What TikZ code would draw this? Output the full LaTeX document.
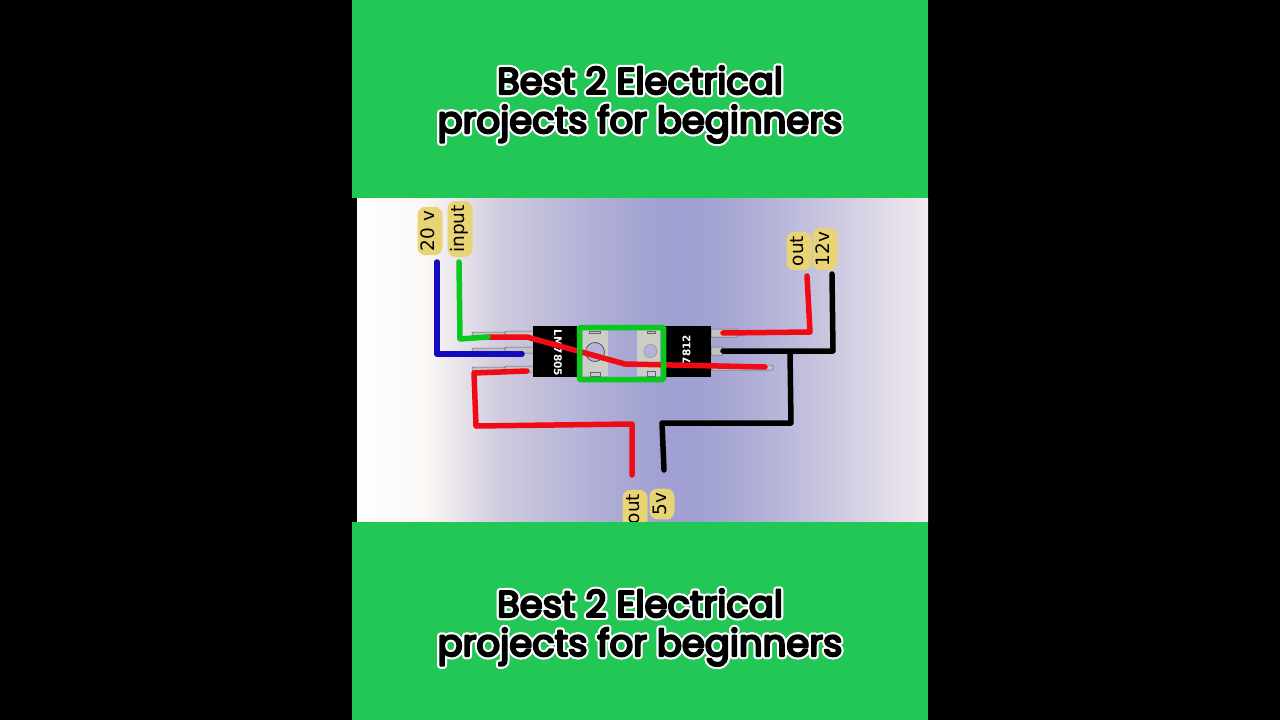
\documentclass[tikz,border=0pt]{standalone}
\usepackage{fontspec}
\setmainfont{Poppins}
\newfontfamily\labelfont{DejaVu Sans}
\newcommand{\stroked}[3]{{\color{#1}\special{pdf:code 2 Tr #2 w 1 j 1 J}#3\special{pdf:code 0 Tr 1 w 0 j 0 J}}}
\newcommand{\outlined}[1]{\rlap{\stroked{white}{6.5}{#1}}\stroked{black}{2.2}{#1}}
\definecolor{bandgreen}{RGB}{34,199,86}
\definecolor{boardblue}{RGB}{160,160,210}
\definecolor{boardmid}{RGB}{175,175,215}
\definecolor{boardleft}{RGB}{208,203,222}
\definecolor{boardright}{RGB}{210,205,225}
\definecolor{boardpale}{RGB}{250,247,245}
\definecolor{boardedge}{RGB}{240,235,240}
\definecolor{wirered}{RGB}{240,10,20}
\definecolor{wiregreen}{RGB}{10,200,30}
\definecolor{wireblue}{RGB}{20,10,190}
\definecolor{tagyellow}{RGB}{232,212,116}
\definecolor{tabgrey}{RGB}{205,205,200}
\definecolor{pingrey}{RGB}{195,195,195}
\pgfdeclarehorizontalshading{boardshade}{100bp}{
    color(0bp)=(white);
    color(25bp)=(white);
    color(31bp)=(boardpale);
    color(37.5bp)=(boardleft);
    color(46bp)=(boardmid);
    color(51.5bp)=(boardblue);
    color(55bp)=(boardblue);
    color(60bp)=(boardmid);
    color(68bp)=(boardright);
    color(75bp)=(boardedge);
    color(100bp)=(boardedge)}
\tikzset{
    band/.style={fill=bandgreen},
    titletext/.style={font=\fontsize{37}{37}\selectfont, anchor=base, inner sep=0pt},
    wire/.style={line width=5.5pt, line join=round, line cap=round},
    pin/.style={draw=black!60, fill=pingrey, line width=.5pt, rounded corners=1pt},
    tab/.style={fill=tabgrey},
    slot/.style={draw=black!60, fill=boardblue!60, line width=.5pt},
    hole/.style={circle, draw=black!70, fill=boardblue!80, line width=.7pt, inner sep=0pt},
    chip/.style={fill=black, inner sep=0pt},
    chiptext/.style={font=\labelfont\bfseries\fontsize{10.5}{12}\selectfont, text=white, inner sep=0pt},
    tag/.style={fill=tagyellow, draw=tagyellow, line width=2pt, rounded corners=7pt, font=\labelfont\fontsize{18.5}{18.5}\selectfont, text=black, inner xsep=3pt, inner ysep=3pt, text height=13pt, text depth=4pt, rotate=90}
}
\begin{document}
\begin{tikzpicture}[x=1pt, y=-1pt]
    \useasboundingbox (0,0) rectangle (1280,720);
    \fill[black] (0,0) rectangle (1280,720);
    \shade[shading=boardshade] (357,198) rectangle (928,522);

    % regulators
    \foreach \y in {334,350,369} {
        \draw[pin] (472,\y-2) rectangle (505,\y+2);
        \draw[pin] (505,\y-3) rectangle (534,\y+3);
    }
    \draw[pin] (711,329) rectangle (738,337);
    \draw[pin] (711,347) rectangle (723,355);
    \draw[pin] (711,365) rectangle (773,370);
    \fill[tab] (583,330) rectangle (608,376);
    \fill[tab] (637,330) rectangle (660,376);
    \draw[slot] (589,331) rectangle (600,333);
    \draw[slot] (590,372) rectangle (600,376);
    \draw[slot] (647,331) rectangle (655,333);
    \draw[slot] (647,371) rectangle (655,376);
    \node[hole, minimum size=19pt] (holeleft) at (595,352) {};
    \node[hole, minimum size=13pt, draw=black!40] (holeright) at (650.5,351) {};
    \node[chip, minimum width=44pt, minimum height=51pt] (chipleft) at (555,351.5) {};
    \node[chip, minimum width=46pt, minimum height=51pt] (chipright) at (688,351.5) {};
    \node[chiptext, rotate=-90] (nameleft) at (558,353) {LM7805};
    \node[chiptext, rotate=90] (nameright) at (686.5,349.5) {7812};

    % wire ends
    \coordinate (twenty) at (437,262);
    \coordinate (twentya) at (437,354);
    \coordinate (twentyb) at (522,354);
    \coordinate (input) at (459,262);
    \coordinate (inputa) at (460,339);
    \coordinate (inputb) at (488,337);
    \coordinate (redb) at (527,337);
    \coordinate (redc) at (625,364);
    \coordinate (redd) at (765,367);
    \coordinate (outfivea) at (527,371);
    \coordinate (outfiveb) at (474,373);
    \coordinate (outfivec) at (476,426);
    \coordinate (outfived) at (632,424);
    \coordinate (outfive) at (632,475);
    \coordinate (gnda) at (664,470);
    \coordinate (gndb) at (662,423);
    \coordinate (gndc) at (791,423);
    \coordinate (gndd) at (790,352);
    \coordinate (outtwelvea) at (723,333);
    \coordinate (outtwelveb) at (810,332);
    \coordinate (outtwelve) at (807,276);
    \coordinate (twelvea) at (723,351);
    \coordinate (twelveb) at (833,351);
    \coordinate (twelve) at (832,274);

    \draw[wire, wirered] (inputb) -- (redb) -- (redc) -- (redd);
    \draw[wire, wiregreen] (input) -- (inputa) -- (inputb);
    \draw[wire, wireblue] (twenty) -- (twentya) -- (twentyb);
    \draw[wire, wirered] (outfivea) -- (outfiveb) -- (outfivec) -- (outfived) -- (outfive);
    \draw[wire, black] (gnda) -- (gndb) -- (gndc) -- (gndd);
    \draw[wire, black] (twelvea) -- (twelveb) -- (twelve);
    \draw[wire, wirered] (outtwelvea) -- (outtwelveb) -- (outtwelve);
    \draw[wiregreen, line width=5.5pt, rounded corners=1pt] (579.5,327.5) rectangle (663.5,379.5);

    % labels
    \node[tag] (tagtwenty) at (430,231) {20 v};
    \node[tag] (taginput) at (460,229) {input};
    \node[tag] (tagout) at (799,251) {out};
    \node[tag] (tagtwelve) at (825,249) {12v};
    \node[tag] (tagoutfive) at (635,509) {out};
    \node[tag] (tagfive) at (662,504) {5v};

    % title bands
    \fill[band] (352,0) rectangle (928,198);
    \fill[band] (352,522) rectangle (928,720);
    \node[titletext] (titlea) at (640,94) {\outlined{Best 2 Electrical}};
    \node[titletext] (titleb) at (640,133) {\outlined{projects for beginners}};
    \node[titletext] (titlec) at (640,617) {\outlined{Best 2 Electrical}};
    \node[titletext] (titled) at (640,656) {\outlined{projects for beginners}};
\end{tikzpicture}
\end{document}
